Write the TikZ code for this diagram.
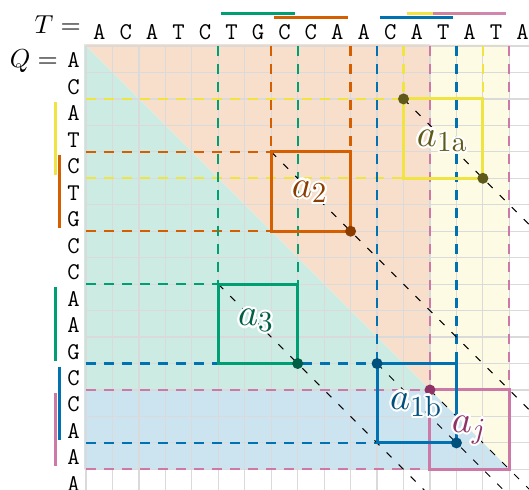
\documentclass[tikz,border=0pt]{standalone}
\DeclareFontFamily{OML}{cmm}{\skewchar\font'177}
\DeclareFontShape{OML}{cmm}{m}{it}{<-> cmmi10}{}
\DeclareFontFamily{OT1}{cmr}{\hyphenchar\font45 }
\DeclareFontShape{OT1}{cmr}{m}{n}{<-> cmr10}{}
\DeclareFontFamily{OMS}{cmsy}{\skewchar\font48 }
\DeclareFontShape{OMS}{cmsy}{m}{n}{<-> cmsy10}{}
\DeclareMathSizes{38}{38}{29}{21}
\definecolor{cG}{HTML}{009E73}
\definecolor{cO}{HTML}{D55E00}
\definecolor{cB}{HTML}{0072B2}
\definecolor{cY}{HTML}{F0E442}
\definecolor{cP}{HTML}{CC79A7}
\definecolor{dG}{HTML}{005F45}
\definecolor{dO}{HTML}{8A3D00}
\definecolor{dB}{HTML}{00507D}
\definecolor{dY}{HTML}{5F5A1A}
\definecolor{dP}{HTML}{8F3366}
\definecolor{gridc}{HTML}{DADADA}
\tikzset{
  gridline/.style={gridc, line width=1.2pt},
  guide/.style={line width=2.2pt, dash pattern=on 10pt off 8pt},
  boxline/.style={line width=3pt},
  diag/.style={black, line width=1pt, dash pattern=on 7pt off 10pt},
  barline/.style={line width=3pt},
  seq/.style={font=\fontsize{24}{28}\selectfont\ttfamily, inner sep=0pt, anchor=base},
  eqlab/.style={font=\fontsize{26}{30}\selectfont, inner sep=0pt, anchor=base east},
  lbl/.style={font=\fontsize{38}{44}\selectfont, inner sep=0pt, anchor=base west},
  dotm/.style={circle, inner sep=0pt, minimum size=11pt},
}
\newcommand\halolabel[4]{%
  \foreach \ang in {0,22.5,...,337.5}{\node[lbl, text=white, shift={(\ang:2.2pt)}] at (#2) {#4};}
  \node[lbl, text=#3] (#1) at (#2) {#4};
}
\begin{document}
\begin{tikzpicture}[x=26.46pt, y=-26.46pt]
\useasboundingbox (-3.2502,-1.7385) rectangle (16.7423,16.7801);
\clip (-3.2502,-1.7385) rectangle (16.7423,16.7801);
% shaded regions
\fill[cO!20] (-0.075,-0.075) -- (13,-0.075) -- (13,13) -- cycle;
\fill[cG!20] (-0.075,-0.075) -- (13,13) -- (-0.075,13) -- cycle;
\fill[cY!15] (13,-0.075) -- (16,-0.075) -- (16,16) -- (13,13) -- cycle;
\fill[cB!20] (-0.075,13) -- (13,13) -- (16,16) -- (-0.075,16) -- cycle;
% grid
\foreach \i in {0,...,17}{
  \draw[gridline] (\i,0) -- (\i,17);
  \draw[gridline] (0,\i) -- (17,\i);
}
% guides
\draw[guide, cY] (0,2) -- (12,2) (0,5) -- (12,5) (12,0) -- (12,2) (15,0) -- (15,2);
\draw[guide, cO] (0,4) -- (7,4) (0,7) -- (7,7) (7,0) -- (7,4) (10,0) -- (10,4);
\draw[guide, cG] (0,9) -- (5,9) (0,12) -- (5,12) (5,0) -- (5,9) (8,0) -- (8,9);
\draw[guide, cB] (0,12) -- (11,12) (0,15) -- (11,15) (11,0) -- (11,12) (14,0) -- (14,12);
\draw[guide, cP] (0,13) -- (13,13) (0,16) -- (13,16) (13,0) -- (13,13) (16,0) -- (16,13);
% diagonals
\coordinate (s1a) at (12,2);
\coordinate (s2) at (7,4);
\coordinate (s3) at (5,9);
\coordinate (s1b) at (11,12);
\coordinate (sj) at (13,13);
\draw[diag] (s1a) -- (19,9);
\draw[diag] (s2) -- (20,17);
\draw[diag] (s3) -- (13,17);
\draw[diag] (s1b) -- (17,18);
\draw[diag] (sj) -- (18,18);
% boxes
\draw[boxline, cY] (12,2) rectangle (15,5);
\draw[boxline, cO] (7,4) rectangle (10,7);
\draw[boxline, cG] (5,9) rectangle (8,12);
\draw[boxline, cP] (13,13) rectangle (16,16);
\draw[boxline, cB] (11,12) rectangle (14,15);
% dots
\node[dotm, fill=dY] (d1a) at (12,2) {};
\node[dotm, fill=dY] (e1a) at (15,5) {};
\node[dotm, fill=dO] (e2) at (10,7) {};
\node[dotm, fill=dG] (e3) at (8,12) {};
\node[dotm, fill=dB] (d1b) at (11,12) {};
\node[dotm, fill=dB] (e1b) at (14,15) {};
\node[dotm, fill=dP] (dj) at (13,13) {};
% bars top
\draw[barline, cG] (5.113,-1.21) -- (7.887,-1.21);
\draw[barline, cO] (7.113,-1.085) -- (9.887,-1.085);
\draw[barline, cB] (11.113,-1.085) -- (13.887,-1.085);
\draw[barline, cY] (12.113,-1.21) -- (14.887,-1.21);
\draw[barline, cP, opacity=0.9] (13.113,-1.21) -- (15.887,-1.21);
% bars left
\draw[barline, cY] (-1.145,2.113) -- (-1.145,4.887);
\draw[barline, cO] (-1.009,4.113) -- (-1.009,6.887);
\draw[barline, cG] (-1.145,9.113) -- (-1.145,11.887);
\draw[barline, cB] (-1.009,12.113) -- (-1.009,14.887);
\draw[barline, cP] (-1.145,13.113) -- (-1.145,15.887);
% sequences
\foreach \c [count=\i from 0] in {A,C,A,T,C,T,G,C,C,A,A,C,A,T,A,T,A}
  \node[seq] (t\i) at (\i+0.5,-0.227) {\c};
\foreach \c [count=\j from 0] in {A,C,A,T,C,T,G,C,C,A,A,G,C,C,A,A,A}
  \node[seq] (q\j) at (-0.472,\j+0.83) {\c};
\node[eqlab] (tlab) at (-0.189,-0.491) {$T =$};
\node[eqlab] (qlab) at (-1.058,0.83) {$Q =$};
% labels
\halolabel{la1a}{12.50,3.78}{dY}{$a_{\mathrm{1a}}$}
\halolabel{la2}{7.77,5.71}{dO}{$a_2$}
\halolabel{la3}{5.74,10.58}{dG}{$a_3$}
\halolabel{la1b}{11.49,13.72}{dB}{$a_{\mathrm{1b}}$}
\halolabel{laj}{13.82,14.59}{dP}{$a_j$}
\end{tikzpicture}
\end{document}
